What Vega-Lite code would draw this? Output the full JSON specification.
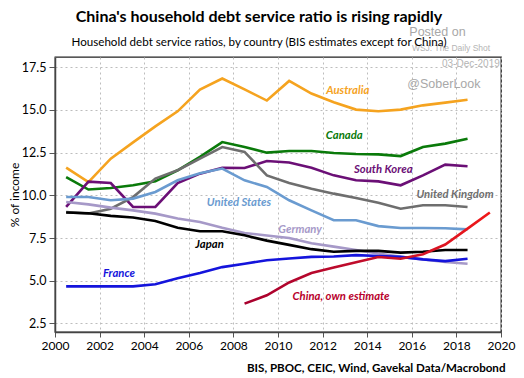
{
  "$schema": "https://vega.github.io/schema/vega-lite/v6.json",
  "width": 446,
  "height": 275,
  "autosize": "none",
  "padding": {"left": 55, "top": 57, "right": 23, "bottom": 46},
  "background": "white",
  "config": {
    "font": "Lato",
    "view": {"stroke": "#222222", "strokeWidth": 1.3}
  },
  "title": {
    "text": "China's household debt service ratio is rising rapidly",
    "subtitle": "Household debt service ratios, by country (BIS estimates except for China)",
    "fontSize": 16,
    "fontWeight": "bold",
    "color": "#000000",
    "subtitleFontSize": 11.6,
    "subtitleColor": "#000000",
    "anchor": "middle",
    "frame": "group",
    "dx": -19,
    "offset": -22,
    "subtitlePadding": 12
  },
  "datasets": {
    "dsr": [
      {"country": "Australia", "year": 2000.5, "value": 11.62},
      {"country": "Australia", "year": 2001.5, "value": 10.78},
      {"country": "Australia", "year": 2002.5, "value": 12.15},
      {"country": "Australia", "year": 2003.5, "value": 13.1},
      {"country": "Australia", "year": 2004.5, "value": 14.04},
      {"country": "Australia", "year": 2005.5, "value": 14.92},
      {"country": "Australia", "year": 2006.5, "value": 16.19},
      {"country": "Australia", "year": 2007.5, "value": 16.84},
      {"country": "Australia", "year": 2008.5, "value": 16.2},
      {"country": "Australia", "year": 2009.5, "value": 15.55},
      {"country": "Australia", "year": 2010.5, "value": 16.7},
      {"country": "Australia", "year": 2011.5, "value": 15.96},
      {"country": "Australia", "year": 2012.5, "value": 15.45},
      {"country": "Australia", "year": 2013.5, "value": 15.02},
      {"country": "Australia", "year": 2014.5, "value": 14.92},
      {"country": "Australia", "year": 2015.5, "value": 15.02},
      {"country": "Australia", "year": 2016.5, "value": 15.27},
      {"country": "Australia", "year": 2017.5, "value": 15.43},
      {"country": "Australia", "year": 2018.5, "value": 15.6},
      {"country": "Canada", "year": 2000.5, "value": 11.07},
      {"country": "Canada", "year": 2001.5, "value": 10.34},
      {"country": "Canada", "year": 2002.5, "value": 10.43},
      {"country": "Canada", "year": 2003.5, "value": 10.59},
      {"country": "Canada", "year": 2004.5, "value": 10.82},
      {"country": "Canada", "year": 2005.5, "value": 11.47},
      {"country": "Canada", "year": 2006.5, "value": 12.25},
      {"country": "Canada", "year": 2007.5, "value": 13.12},
      {"country": "Canada", "year": 2008.5, "value": 12.83},
      {"country": "Canada", "year": 2009.5, "value": 12.5},
      {"country": "Canada", "year": 2010.5, "value": 12.6},
      {"country": "Canada", "year": 2011.5, "value": 12.6},
      {"country": "Canada", "year": 2012.5, "value": 12.48},
      {"country": "Canada", "year": 2013.5, "value": 12.42},
      {"country": "Canada", "year": 2014.5, "value": 12.4},
      {"country": "Canada", "year": 2015.5, "value": 12.3},
      {"country": "Canada", "year": 2016.5, "value": 12.83},
      {"country": "Canada", "year": 2017.5, "value": 13.03},
      {"country": "Canada", "year": 2018.5, "value": 13.32},
      {"country": "South Korea", "year": 2000.5, "value": 9.32},
      {"country": "South Korea", "year": 2001.5, "value": 10.8},
      {"country": "South Korea", "year": 2002.5, "value": 10.72},
      {"country": "South Korea", "year": 2003.5, "value": 9.32},
      {"country": "South Korea", "year": 2004.5, "value": 9.32},
      {"country": "South Korea", "year": 2005.5, "value": 10.72},
      {"country": "South Korea", "year": 2006.5, "value": 11.27},
      {"country": "South Korea", "year": 2007.5, "value": 11.62},
      {"country": "South Korea", "year": 2008.5, "value": 11.6},
      {"country": "South Korea", "year": 2009.5, "value": 12.01},
      {"country": "South Korea", "year": 2010.5, "value": 11.92},
      {"country": "South Korea", "year": 2011.5, "value": 11.62},
      {"country": "South Korea", "year": 2012.5, "value": 11.17},
      {"country": "South Korea", "year": 2013.5, "value": 10.88},
      {"country": "South Korea", "year": 2014.5, "value": 10.82},
      {"country": "South Korea", "year": 2015.5, "value": 10.59},
      {"country": "South Korea", "year": 2016.5, "value": 11.17},
      {"country": "South Korea", "year": 2017.5, "value": 11.8},
      {"country": "South Korea", "year": 2018.5, "value": 11.7},
      {"country": "United Kingdom", "year": 2000.5, "value": 9.02},
      {"country": "United Kingdom", "year": 2001.5, "value": 8.93},
      {"country": "United Kingdom", "year": 2002.5, "value": 9.22},
      {"country": "United Kingdom", "year": 2003.5, "value": 9.9},
      {"country": "United Kingdom", "year": 2004.5, "value": 10.98},
      {"country": "United Kingdom", "year": 2005.5, "value": 11.47},
      {"country": "United Kingdom", "year": 2006.5, "value": 12.15},
      {"country": "United Kingdom", "year": 2007.5, "value": 12.83},
      {"country": "United Kingdom", "year": 2008.5, "value": 12.54},
      {"country": "United Kingdom", "year": 2009.5, "value": 11.17},
      {"country": "United Kingdom", "year": 2010.5, "value": 10.72},
      {"country": "United Kingdom", "year": 2011.5, "value": 10.39},
      {"country": "United Kingdom", "year": 2012.5, "value": 10.1},
      {"country": "United Kingdom", "year": 2013.5, "value": 9.85},
      {"country": "United Kingdom", "year": 2014.5, "value": 9.57},
      {"country": "United Kingdom", "year": 2015.5, "value": 9.22},
      {"country": "United Kingdom", "year": 2016.5, "value": 9.42},
      {"country": "United Kingdom", "year": 2017.5, "value": 9.42},
      {"country": "United Kingdom", "year": 2018.5, "value": 9.32},
      {"country": "United States", "year": 2000.5, "value": 9.9},
      {"country": "United States", "year": 2001.5, "value": 9.9},
      {"country": "United States", "year": 2002.5, "value": 9.71},
      {"country": "United States", "year": 2003.5, "value": 9.81},
      {"country": "United States", "year": 2004.5, "value": 10.2},
      {"country": "United States", "year": 2005.5, "value": 10.88},
      {"country": "United States", "year": 2006.5, "value": 11.3},
      {"country": "United States", "year": 2007.5, "value": 11.57},
      {"country": "United States", "year": 2008.5, "value": 10.88},
      {"country": "United States", "year": 2009.5, "value": 10.49},
      {"country": "United States", "year": 2010.5, "value": 9.71},
      {"country": "United States", "year": 2011.5, "value": 9.12},
      {"country": "United States", "year": 2012.5, "value": 8.54},
      {"country": "United States", "year": 2013.5, "value": 8.54},
      {"country": "United States", "year": 2014.5, "value": 8.2},
      {"country": "United States", "year": 2015.5, "value": 8.09},
      {"country": "United States", "year": 2016.5, "value": 8.09},
      {"country": "United States", "year": 2017.5, "value": 8.07},
      {"country": "United States", "year": 2018.5, "value": 8.01},
      {"country": "Germany", "year": 2000.5, "value": 9.61},
      {"country": "Germany", "year": 2001.5, "value": 9.47},
      {"country": "Germany", "year": 2002.5, "value": 9.28},
      {"country": "Germany", "year": 2003.5, "value": 9.12},
      {"country": "Germany", "year": 2004.5, "value": 8.93},
      {"country": "Germany", "year": 2005.5, "value": 8.64},
      {"country": "Germany", "year": 2006.5, "value": 8.44},
      {"country": "Germany", "year": 2007.5, "value": 8.1},
      {"country": "Germany", "year": 2008.5, "value": 7.8},
      {"country": "Germany", "year": 2009.5, "value": 7.65},
      {"country": "Germany", "year": 2010.5, "value": 7.5},
      {"country": "Germany", "year": 2011.5, "value": 7.2},
      {"country": "Germany", "year": 2012.5, "value": 7.0},
      {"country": "Germany", "year": 2013.5, "value": 6.8},
      {"country": "Germany", "year": 2014.5, "value": 6.6},
      {"country": "Germany", "year": 2015.5, "value": 6.4},
      {"country": "Germany", "year": 2016.5, "value": 6.25},
      {"country": "Germany", "year": 2017.5, "value": 6.1},
      {"country": "Germany", "year": 2018.5, "value": 6.0},
      {"country": "France", "year": 2000.5, "value": 4.67},
      {"country": "France", "year": 2001.5, "value": 4.67},
      {"country": "France", "year": 2002.5, "value": 4.67},
      {"country": "France", "year": 2003.5, "value": 4.67},
      {"country": "France", "year": 2004.5, "value": 4.8},
      {"country": "France", "year": 2005.5, "value": 5.15},
      {"country": "France", "year": 2006.5, "value": 5.45},
      {"country": "France", "year": 2007.5, "value": 5.8},
      {"country": "France", "year": 2008.5, "value": 6.0},
      {"country": "France", "year": 2009.5, "value": 6.2},
      {"country": "France", "year": 2010.5, "value": 6.3},
      {"country": "France", "year": 2011.5, "value": 6.4},
      {"country": "France", "year": 2012.5, "value": 6.42},
      {"country": "France", "year": 2013.5, "value": 6.5},
      {"country": "France", "year": 2014.5, "value": 6.45},
      {"country": "France", "year": 2015.5, "value": 6.4},
      {"country": "France", "year": 2016.5, "value": 6.25},
      {"country": "France", "year": 2017.5, "value": 6.15},
      {"country": "France", "year": 2018.5, "value": 6.29},
      {"country": "Japan", "year": 2000.5, "value": 9.0},
      {"country": "Japan", "year": 2001.5, "value": 8.95},
      {"country": "Japan", "year": 2002.5, "value": 8.8},
      {"country": "Japan", "year": 2003.5, "value": 8.7},
      {"country": "Japan", "year": 2004.5, "value": 8.5},
      {"country": "Japan", "year": 2005.5, "value": 8.1},
      {"country": "Japan", "year": 2006.5, "value": 7.9},
      {"country": "Japan", "year": 2007.5, "value": 7.9},
      {"country": "Japan", "year": 2008.5, "value": 7.66},
      {"country": "Japan", "year": 2009.5, "value": 7.35},
      {"country": "Japan", "year": 2010.5, "value": 7.1},
      {"country": "Japan", "year": 2011.5, "value": 6.85},
      {"country": "Japan", "year": 2012.5, "value": 6.7},
      {"country": "Japan", "year": 2013.5, "value": 6.75},
      {"country": "Japan", "year": 2014.5, "value": 6.75},
      {"country": "Japan", "year": 2015.5, "value": 6.65},
      {"country": "Japan", "year": 2016.5, "value": 6.7},
      {"country": "Japan", "year": 2017.5, "value": 6.8},
      {"country": "Japan", "year": 2018.5, "value": 6.8},
      {"country": "China", "year": 2008.5, "value": 3.66},
      {"country": "China", "year": 2009.5, "value": 4.15},
      {"country": "China", "year": 2010.5, "value": 4.9},
      {"country": "China", "year": 2011.5, "value": 5.45},
      {"country": "China", "year": 2012.5, "value": 5.78},
      {"country": "China", "year": 2013.5, "value": 6.09},
      {"country": "China", "year": 2014.5, "value": 6.39},
      {"country": "China", "year": 2015.5, "value": 6.29},
      {"country": "China", "year": 2016.5, "value": 6.55},
      {"country": "China", "year": 2017.5, "value": 7.12},
      {"country": "China", "year": 2018.5, "value": 8.05},
      {"country": "China", "year": 2019.5, "value": 9.0}
    ],
    "labels": [
      {"country": "Australia", "label": "Australia", "year": 2013.13, "value": 16.11},
      {"country": "Canada", "label": "Canada", "year": 2012.97, "value": 13.48},
      {"country": "South Korea", "label": "South Korea", "year": 2014.72, "value": 11.47},
      {"country": "United Kingdom", "label": "United Kingdom", "year": 2017.94, "value": 10.0},
      {"country": "United States", "label": "United States", "year": 2008.25, "value": 9.55},
      {"country": "Germany", "label": "Germany", "year": 2010.99, "value": 7.99},
      {"country": "Japan", "label": "Japan", "year": 2006.93, "value": 7.07},
      {"country": "France", "label": "France", "year": 2002.87, "value": 5.41},
      {"country": "China", "label": "China, own estimate", "year": 2012.83, "value": 4.04}
    ],
    "notes": [
      {"text": "Posted on", "year": 2017.15, "value": 19.55, "group": "big"},
      {"text": "WSJ: The Daily Shot", "year": 2017.76, "value": 18.61, "group": "small"},
      {"text": "03-Dec-2019", "year": 2018.65, "value": 17.68, "group": "date"},
      {"text": "@SoberLook", "year": 2017.44, "value": 16.5, "group": "big"}
    ]
  },
  "encoding": {
    "x": {
      "field": "year",
      "type": "quantitative",
      "scale": {"domain": [2000, 2020], "nice": false, "zero": false},
      "axis": {
        "values": [2000, 2002, 2004, 2006, 2008, 2010, 2012, 2014, 2016, 2018, 2020],
        "format": "d",
        "labelFlush": false,
        "title": "BIS, PBOC, CEIC, Wind, Gavekal Data/Macrobond",
        "titleAnchor": "end",
        "titleAlign": "right",
        "titleX": 450,
        "titleY": 36,
        "titleBaseline": "middle",
        "titleFontWeight": "bold",
        "titleFontSize": 11.6,
        "titleColor": "#000000",
        "labelFontSize": 12,
        "labelColor": "#000000",
        "labelPadding": 3,
        "tickSize": 5,
        "tickColor": "#555555",
        "domainColor": "#444444",
        "domainWidth": 1.5,
        "grid": true,
        "gridDash": [2, 3],
        "gridColor": "#bdbdbd"
      }
    },
    "y": {
      "field": "value",
      "type": "quantitative",
      "scale": {"domain": [2, 18.1], "nice": false, "zero": false},
      "axis": {
        "values": [2.5, 5, 7.5, 10, 12.5, 15, 17.5],
        "format": ".1f",
        "title": "% of income",
        "titleFontSize": 12,
        "titleFontWeight": "normal",
        "titleColor": "#000000",
        "titlePadding": 0,
        "labelFontSize": 12.5,
        "labelColor": "#000000",
        "labelPadding": 3,
        "tickSize": 6,
        "tickColor": "#555555",
        "domainColor": "#444444",
        "domainWidth": 1.5,
        "grid": true,
        "gridDash": [2, 3],
        "gridColor": "#bdbdbd"
      }
    }
  },
  "layer": [
    {
      "data": {"name": "dsr"},
      "transform": [{"filter": "datum.country !== 'China'"}],
      "mark": {"type": "line", "strokeWidth": 2.6},
      "encoding": {
        "color": {
          "field": "country",
          "type": "nominal",
          "scale": {
            "domain": ["Australia", "Canada", "South Korea", "United Kingdom", "United States", "Germany", "France", "Japan", "China"],
            "range": ["#f5a31f", "#0a7a0a", "#6b0f76", "#6e6e6e", "#6a9bd0", "#a699c8", "#1414dc", "#000000", "#b8002c"]
          },
          "legend": null
        },
        "order": {"field": "year", "type": "quantitative"}
      }
    },
    {
      "data": {"name": "dsr"},
      "transform": [{"filter": "datum.country === 'China'"}],
      "mark": {
        "type": "line",
        "strokeWidth": 2.6,
        "color": {
          "gradient": "linear",
          "x1": 0, "y1": 0, "x2": 1, "y2": 0,
          "stops": [
            {"offset": 0, "color": "#a8002e"},
            {"offset": 0.6, "color": "#c8102a"},
            {"offset": 1, "color": "#f01818"}
          ]
        }
      },
      "encoding": {
        "order": {"field": "year", "type": "quantitative"}
      }
    },
    {
      "data": {"name": "labels"},
      "mark": {"type": "text", "fontSize": 11.3, "fontWeight": "bold", "fontStyle": "italic", "align": "center", "baseline": "middle"},
      "encoding": {
        "text": {"field": "label"},
        "color": {"field": "country", "type": "nominal", "legend": null}
      }
    },
    {
      "data": {"name": "notes"},
      "transform": [{"filter": "datum.group === 'big'"}],
      "mark": {"type": "text", "fontSize": 12.5, "color": "#a8a8a8", "align": "center", "baseline": "middle", "font": "Liberation Sans"},
      "encoding": {
        "text": {"field": "text"}
      }
    },
    {
      "data": {"name": "notes"},
      "transform": [{"filter": "datum.group === 'small'"}],
      "mark": {"type": "text", "fontSize": 8.5, "color": "#b4b4b4", "align": "center", "baseline": "middle", "font": "Liberation Sans"},
      "encoding": {
        "text": {"field": "text"}
      }
    },
    {
      "data": {"name": "notes"},
      "transform": [{"filter": "datum.group === 'date'"}],
      "mark": {"type": "text", "fontSize": 10, "color": "#b4b4b4", "align": "center", "baseline": "middle", "font": "Liberation Sans"},
      "encoding": {
        "text": {"field": "text"}
      }
    }
  ]
}
